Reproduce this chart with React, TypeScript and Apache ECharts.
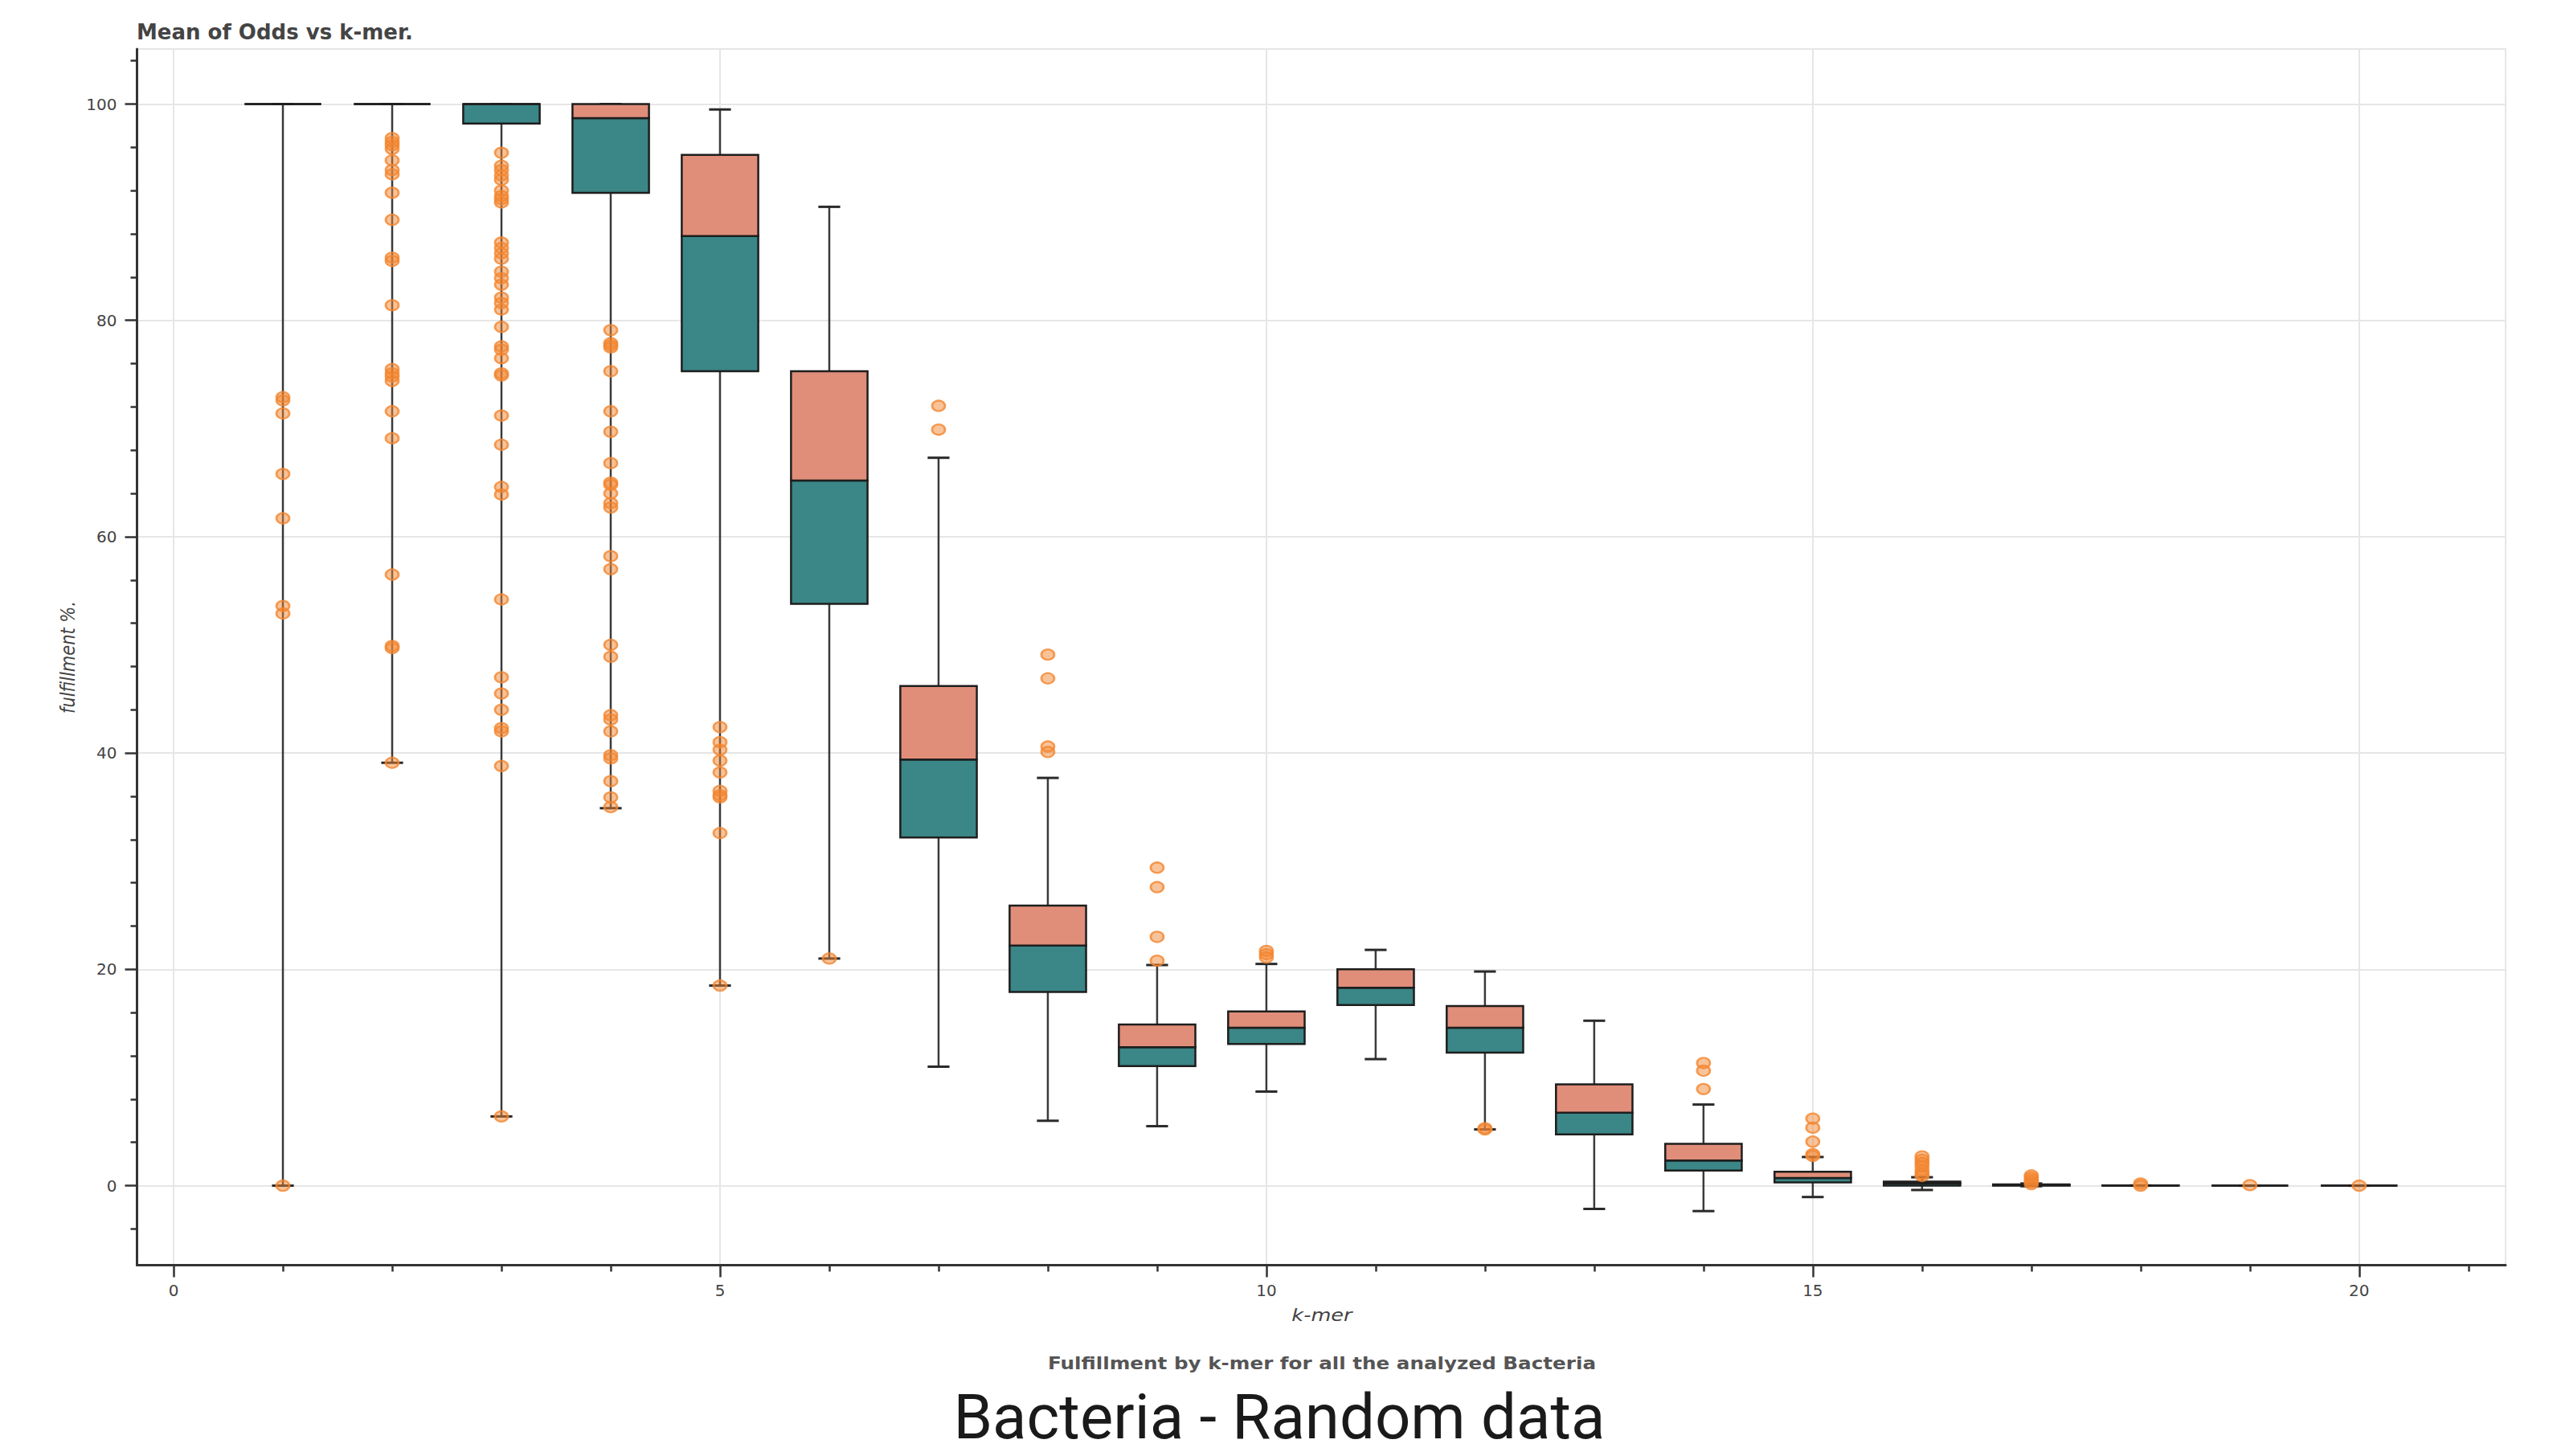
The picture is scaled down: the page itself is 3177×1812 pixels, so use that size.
import React, { useEffect, useRef } from "react";
import * as echarts from "echarts";

const kmers = [1, 2, 3, 4, 5, 6, 7, 8, 9, 10, 11, 12, 13, 14, 15, 16, 17, 18, 19, 20];
const lowerWhisker = [0, 39.1, 6.4, 34.9, 18.5, 21.0, 11.0, 6.0, 5.5, 8.7, 11.7, 5.2, -2.15, -2.35, -1.05, -0.4, -0.05, 0, 0, 0];
const q1 = [100, 100, 98.2, 91.8, 75.3, 53.8, 32.2, 17.9, 11.05, 13.1, 16.7, 12.3, 4.75, 1.4, 0.31, 0.0, 0.0, 0, 0, 0];
const q2 = [100, 100, 100, 98.7, 87.8, 65.2, 39.4, 22.2, 12.8, 14.6, 18.3, 14.6, 6.75, 2.33, 0.71, 0.2, 0.04, 0, 0, 0];
const q3 = [100, 100, 100, 100, 95.3, 75.3, 46.2, 25.9, 14.9, 16.1, 20.0, 16.6, 9.37, 3.86, 1.29, 0.37, 0.12, 0.02, 0, 0];
const upperWhisker = [100, 100, 100, 100, 99.5, 90.5, 67.3, 37.7, 20.4, 20.5, 21.8, 19.8, 15.25, 7.5, 2.65, 0.78, 0.2, 0.02, 0, 0];

const outliers: number[][] = [
  [72.9, 72.6, 71.4, 65.8, 61.7, 53.6, 52.9, 0],
  [96.85, 96.5, 96.2, 95.85, 94.8, 93.9, 93.5, 91.8, 89.3, 85.8, 85.5, 81.4, 75.5, 75.1, 74.8, 74.4, 71.6, 69.1, 56.5, 49.9, 49.7, 39.1],
  [95.5, 94.3, 93.9, 93.4, 93.0, 92.0, 91.5, 91.2, 90.9, 87.2, 86.7, 86.2, 85.7, 84.5, 83.9, 83.3, 82.1, 81.6, 81.0, 79.4, 77.6, 77.3, 76.5, 75.1, 74.9, 71.2, 68.5, 64.6, 63.9, 54.2, 47.0, 45.5, 44.0, 42.3, 42.0, 38.8, 6.4],
  [79.1, 77.9, 77.7, 77.5, 75.3, 71.6, 69.7, 66.8, 65.0, 64.8, 64.0, 63.1, 62.7, 58.2, 57.0, 50.0, 48.9, 43.5, 43.1, 42.0, 39.8, 39.5, 37.4, 35.9, 35.0],
  [42.4, 41.0, 40.3, 39.3, 38.2, 36.5, 36.1, 35.9, 32.6, 18.5],
  [21.0],
  [72.1, 69.9],
  [49.1, 46.9, 40.6, 40.1],
  [29.4, 27.6, 23.0, 20.8],
  [21.7, 21.4, 21.1],
  [],
  [5.3, 5.2],
  [],
  [11.34, 10.63, 8.93],
  [6.2, 5.36, 4.07, 2.92, 2.75],
  [2.7, 2.4, 2.1, 1.8, 1.4, 1.1, 0.9],
  [0.95, 0.75, 0.55, 0.35, 0.15],
  [0.2, 0.0],
  [0.05],
  [0.0],
];

const xMajorTicks = [0, 5, 10, 15, 20];
const yMajorTicks = [0, 20, 40, 60, 80, 100];

const titleText = "Mean of Odds vs k-mer.";
const xName = "k-mer";
const yName = "fulfillment %.";
const subTitle = "Fulfillment by k-mer for all the analyzed Bacteria";
const caption = "Bacteria - Random data";

const X_MIN = -0.335;
const X_MAX = 21.34;
const Y_MIN = -7.35;
const Y_MAX = 105.09;

export default function App() {
  const ref = useRef<HTMLDivElement>(null);

  useEffect(() => {
    document.body.style.margin = "0";
    if (!ref.current) return;
    const chart = echarts.init(ref.current, undefined, { renderer: "svg" });

    const boxData = kmers.map((k, i) => [k, lowerWhisker[i], q1[i], q2[i], q3[i], upperWhisker[i]]);
    const outlierData: number[][] = [];
    kmers.forEach((k, i) => {
      outliers[i].forEach((v) => outlierData.push([k, v]));
    });

    const axisColor = "#333";
    const labelColor = "#444";

    const option: any = {
      animation: false,
      backgroundColor: "#ffffff",
      grid: {
        left: 170.5,
        right: 59,
        top: 61,
        bottom: 237.5,
        containLabel: false,
        show: true,
        borderColor: "#e6e6e6",
        borderWidth: 2,
        backgroundColor: "transparent",
      },
      xAxis: {
        type: "value",
        min: X_MIN,
        max: X_MAX,
        splitNumber: 5,
        axisLine: { show: true, onZero: false, lineStyle: { color: axisColor, width: 3 } },
        axisTick: {
          show: true,
          inside: false,
          length: 15,
          customValues: xMajorTicks,
          lineStyle: { color: axisColor, width: 2.5 },
        },
        minorTick: { show: true, splitNumber: 5, length: 8, lineStyle: { color: axisColor, width: 2.5 } },
        axisLabel: {
          show: true,
          margin: 21,
          customValues: xMajorTicks,
          fontFamily: "DejaVu Sans",
          fontSize: 20,
          color: labelColor,
        },
        splitLine: { show: true, lineStyle: { color: "#e6e6e6", width: 2 } },
      },
      yAxis: {
        type: "value",
        min: Y_MIN,
        max: Y_MAX,
        splitNumber: 5,
        axisLine: { show: true, onZero: false, lineStyle: { color: axisColor, width: 3 } },
        axisTick: {
          show: true,
          inside: false,
          length: 15,
          customValues: yMajorTicks,
          lineStyle: { color: axisColor, width: 2.5 },
        },
        minorTick: { show: true, splitNumber: 5, length: 8, lineStyle: { color: axisColor, width: 2.5 } },
        axisLabel: {
          show: true,
          margin: 25,
          customValues: yMajorTicks,
          fontFamily: "DejaVu Sans",
          fontSize: 20,
          color: labelColor,
        },
        splitLine: { show: true, lineStyle: { color: "#e6e6e6", width: 2 } },
      },
      series: [
        {
          type: "custom",
          data: boxData,
          encode: { x: 0, y: [1, 2, 3, 4, 5] },
          clip: false,
          z: 2,
          renderItem: (params: any, api: any) => {
            const k = api.value(0);
            const lo = api.coord([k, api.value(1)]);
            const b1 = api.coord([k, api.value(2)]);
            const b2 = api.coord([k, api.value(3)]);
            const b3 = api.coord([k, api.value(4)]);
            const hi = api.coord([k, api.value(5)]);
            const x = b1[0];
            const halfBox = api.size([0.7, 0])[0] / 2;
            const halfCap = api.size([0.2, 0])[0] / 2;
            const stem = { stroke: "#3a3a3a", lineWidth: 2.5 };
            const cap = { stroke: "#2a2a2a", lineWidth: 3 };
            return {
              type: "group",
              children: [
                { type: "line", shape: { x1: x, y1: b3[1], x2: x, y2: hi[1] }, style: stem },
                { type: "line", shape: { x1: x, y1: b1[1], x2: x, y2: lo[1] }, style: stem },
                { type: "line", shape: { x1: x - halfCap, y1: hi[1], x2: x + halfCap, y2: hi[1] }, style: cap },
                { type: "line", shape: { x1: x - halfCap, y1: lo[1], x2: x + halfCap, y2: lo[1] }, style: cap },
                {
                  type: "rect",
                  shape: { x: x - halfBox, y: b2[1], width: halfBox * 2, height: b1[1] - b2[1] },
                  style: { fill: "#3B8686", stroke: "#1e1e1e", lineWidth: 2.5 },
                },
                {
                  type: "rect",
                  shape: { x: x - halfBox, y: b3[1], width: halfBox * 2, height: b2[1] - b3[1] },
                  style: { fill: "#E08E79", stroke: "#1e1e1e", lineWidth: 2.5 },
                },
              ],
            };
          },
        },
        {
          type: "scatter",
          data: outlierData,
          symbol: "circle",
          symbolSize: [16, 13],
          z: 3,
          itemStyle: {
            color: "rgba(243,134,48,0.62)",
            borderColor: "#F38630",
            borderWidth: 2.5,
          },
        },
      ],
      graphic: [
        {
          type: "text",
          x: 170,
          y: 40,
          style: {
            text: titleText,
            font: 'bold 26px "DejaVu Sans"',
            fill: "#444444",
            align: "left",
            verticalAlign: "middle",
          },
        },
        {
          type: "text",
          x: 84,
          y: 818,
          rotation: Math.PI / 2,
          scaleY: 1.2,
          style: {
            text: yName,
            font: 'italic 21px "DejaVu Sans"',
            fill: "#444444",
            align: "center",
            verticalAlign: "middle",
          },
        },
        {
          type: "text",
          x: 1645,
          y: 1637,
          scaleX: 1.22,
          style: {
            text: xName,
            font: 'italic 21px "DejaVu Sans"',
            fill: "#444444",
            align: "center",
            verticalAlign: "middle",
          },
        },
        {
          type: "text",
          x: 1645,
          y: 1696,
          scaleX: 1.12,
          style: {
            text: subTitle,
            font: 'bold 22px "DejaVu Sans"',
            fill: "#555555",
            align: "center",
            verticalAlign: "middle",
          },
        },
        {
          type: "text",
          x: 1592,
          y: 1763,
          style: {
            text: caption,
            font: '78px "Roboto"',
            lineHeight: 78,
            fill: "#1a1a1a",
            align: "center",
            verticalAlign: "middle",
          },
        },
      ],
    };

    chart.setOption(option);
    return () => {
      chart.dispose();
    };
  }, []);

  return <div ref={ref} style={{ width: 3177, height: 1812 }} />;
}
